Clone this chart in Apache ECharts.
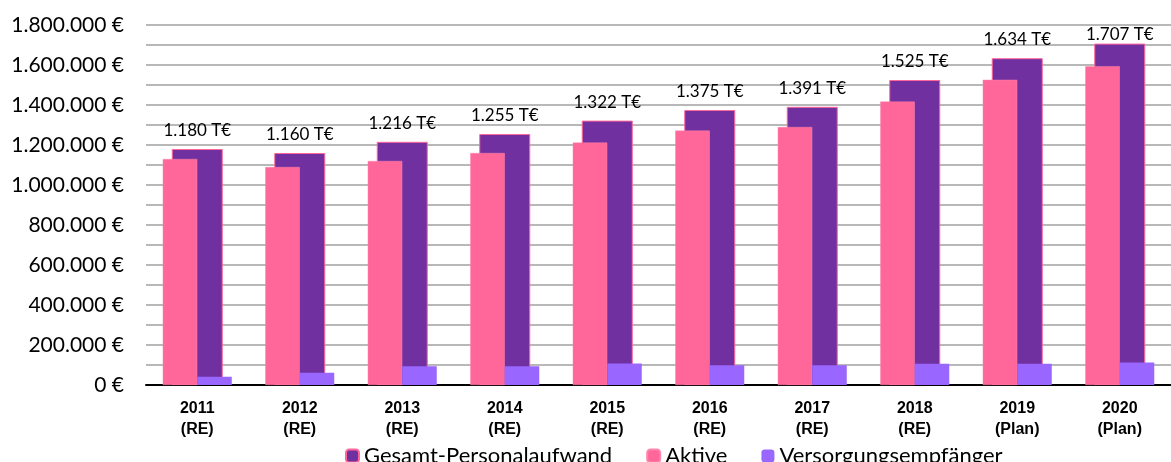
<!DOCTYPE html>
<html>
<head>
<meta charset="utf-8">
<title>Personalaufwand 2011-2020</title>
<script src="https://cdn.jsdelivr.net/npm/echarts@6/dist/echarts.min.js"></script>
<style>
  html, body { margin: 0; padding: 0; background: #fff; }
  #chart { width: 1171px; height: 462px; }
</style>
</head>
<body>
<div id="chart"></div>
<script>
// Kategorien (Jahr + Status)
const years = ['2011\n(RE)', '2012\n(RE)', '2013\n(RE)', '2014\n(RE)', '2015\n(RE)',
  '2016\n(RE)', '2017\n(RE)', '2018\n(RE)', '2019\n(Plan)', '2020\n(Plan)'];
// Werte in €
const gesamt = [1180000, 1160000, 1216000, 1255000, 1322000, 1375000, 1391000, 1525000, 1634000, 1707000];
const aktive = [1130000, 1090000, 1120000, 1160000, 1212000, 1272000, 1290000, 1417000, 1526000, 1594000];
const versorgung = [41000, 61000, 94000, 94000, 107000, 99000, 99000, 106000, 106000, 112000];
// Achse
const yTicks = { min: 0, max: 1800000, step: 100000, labelStep: 200000 };

const FONT = 'Lato';

function dots(n) { // 1800000 -> "1.800.000"
  return String(Math.round(n)).replace(/\B(?=(\d{3})+(?!\d))/g, '.');
}

const chart = echarts.init(document.getElementById('chart'), null, { renderer: 'canvas' });

var option = {
  animation: false,
  backgroundColor: '#fff',
  grid: {
    left: 146,
    right: -9,
    top: 25,
    bottom: 77
  },
  legend: {
    left: 345,
    top: 445,
    padding: 0,
    itemWidth: 13,
    itemHeight: 13,
    itemGap: 34,
    textStyle: { fontFamily: FONT, fontSize: 22, color: '#000', padding: [0, 0, 0, 0] },
    data: ['Gesamt-Personalaufwand', 'Aktive', 'Versorgungsempfänger']
  },
  xAxis: [{
    type: 'category',
    data: years,
    axisLine: { show: true, lineStyle: { color: '#000', width: 2 } },
    axisTick: { show: false },
    axisLabel: {
      margin: 13,
      fontFamily: 'Liberation Sans',
      fontWeight: 'bold',
      fontSize: 16,
      lineHeight: 21,
      color: '#000'
    }
  }, {
    // zweite Achse nur für den breiten Gesamt-Balken
    type: 'category',
    data: years,
    show: false
  }],
  yAxis: {
    type: 'value',
    min: yTicks.min,
    max: yTicks.max,
    interval: yTicks.step,
    axisLine: { show: false },
    axisTick: { show: false },
    splitLine: { lineStyle: { color: '#A0A0A0', width: 1.5 } },
    axisLabel: {
      margin: 22,
      fontFamily: FONT,
      fontSize: 21,
      color: '#000',
      formatter: function (v) {
        if (v % yTicks.labelStep !== 0) return '';
        return dots(v) + ' €';
      }
    }
  },
  series: [{
    name: 'Gesamt-Personalaufwand',
    type: 'bar',
    xAxisIndex: 1,
    barWidth: 51,
    data: gesamt.map(function (v, i) {
      // letzter Wert stößt oben an, Beschriftung näher am Balken
      return i === gesamt.length - 1 ? { value: v, label: { distance: 1 } } : v;
    }),
    itemStyle: { color: '#7030A0', borderColor: '#FF6699', borderWidth: 1 },
    label: {
      show: true,
      position: 'top',
      distance: 10,
      fontFamily: FONT,
      fontSize: 17,
      color: '#000',
      formatter: function (p) { return dots(p.value / 1000) + ' T€'; }
    }
  }, {
    name: 'Aktive',
    type: 'bar',
    xAxisIndex: 0,
    barWidth: 34.5,
    barGap: '0%',
    data: aktive,
    itemStyle: { color: '#FF6699', borderColor: '#FF85AD', borderWidth: 0.5 }
  }, {
    name: 'Versorgungsempfänger',
    type: 'bar',
    xAxisIndex: 0,
    barWidth: 34.5,
    barGap: '0%',
    data: versorgung,
    itemStyle: { color: '#9966FF' }
  }]
};

chart.setOption(option);
</script>
</body>
</html>
